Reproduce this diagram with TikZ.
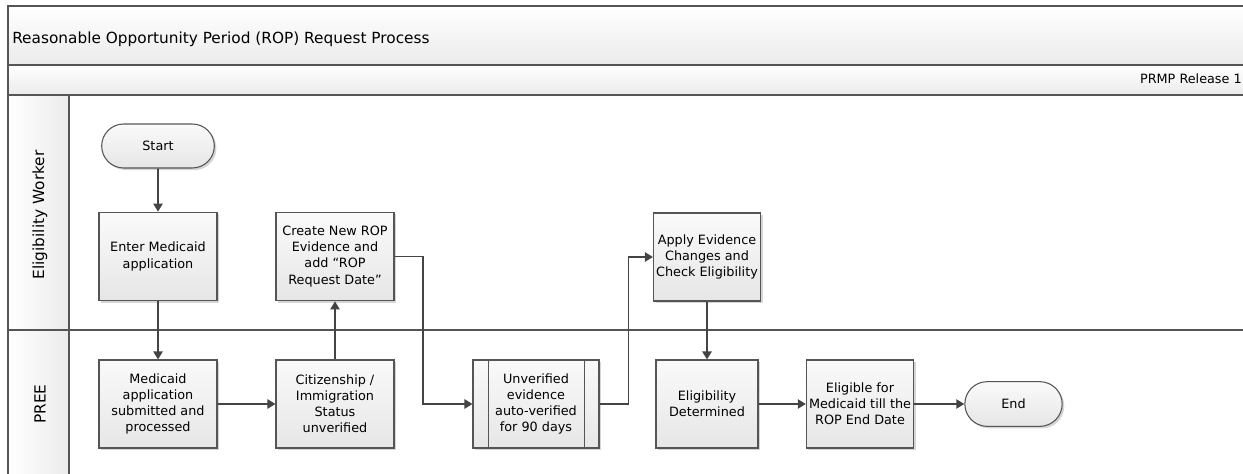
\documentclass[tikz,border=0pt]{standalone}
\usepackage{fontspec}
\setmainfont{DejaVu Sans}
\usetikzlibrary{arrows.meta,shapes.misc,shadows,calc}

\definecolor{edge}{HTML}{555555}
\definecolor{wire}{HTML}{444444}
\definecolor{boxtop}{HTML}{FAFAFA}
\definecolor{boxlow}{HTML}{E6E6E6}
\definecolor{bandlow}{HTML}{EBEBEB}

\tikzset{
  boxfont/.style={font=\fontsize{9.6pt}{12.1pt}\selectfont},
  stepbox/.style={boxfont, draw=edge, line width=0.8pt, rectangle,
    top color=boxtop, bottom color=boxlow, align=center, inner sep=2pt,
    drop shadow={shadow xshift=1.6pt, shadow yshift=-1.6pt, fill=black!16, opacity=1}},
  termbox/.style={stepbox, rounded rectangle},
  arr/.style={draw=wire, line width=1.15pt, -{Triangle[length=6pt,width=7pt]}},
  lanefont/.style={font=\fontsize{11.5pt}{13pt}\selectfont},
  frame/.style={draw=edge, line width=0.8pt},
}

\begin{document}
\begin{tikzpicture}[x=0.75pt,y=-0.75pt]
\useasboundingbox (0,0) rectangle (1243,474);

% pool header bands
\shade[top color=white, bottom color=bandlow] (8,6) rectangle (1250,65);
\shade[top color=white, bottom color=bandlow] (8,65) rectangle (1250,95);
% lane header column
\shade[left color=white, right color=bandlow] (8,95) rectangle (69,480);

\draw[frame] (1250,6) -- (8,6) -- (8,480);
\draw[frame] (8,65) -- (1250,65);
\draw[frame] (8,95) -- (1250,95);
\draw[frame] (69,95) -- (69,480);
\draw[frame] (8,330) -- (1250,330);

\node[lanefont, anchor=base west, inner sep=0] (title) at (12,44)
  {Reasonable Opportunity Period (ROP) Request Process};
\node[boxfont, anchor=base east, inner sep=0] (release) at (1242,84) {PRMP Release 1};

\node[lanefont, rotate=90, inner sep=0] (lane1) at (40,215) {Eligibility Worker};
\node[lanefont, rotate=90, inner sep=0] (lane2) at (40,404) {PREE};

% flow steps
\node[termbox, minimum width=88.5pt, minimum height=33pt] (start) at (158,146) {Start};
\node[stepbox, minimum width=88.5pt, minimum height=66.5pt] (enter) at (158,256.5) {Enter Medicaid\\application};
\node[stepbox, minimum width=88.5pt, minimum height=66.5pt] (create) at (335,256.5) {Create New ROP\\Evidence and\\add “ROP\\Request Date”};
\node[stepbox, minimum width=88.5pt, minimum height=66pt] (submit) at (158,404) {Medicaid\\application\\submitted and\\processed};
\node[stepbox, minimum width=88.5pt, minimum height=66pt] (citizen) at (335,404) {Citizenship /\\Immigration\\Status\\unverified};
\node[stepbox, minimum width=94.5pt, minimum height=66pt] (unv) at (536,404) {Unverified\\evidence\\auto-verified\\for 90 days};
\draw[edge, line width=0.8pt] ($(unv.north west)+(16,0)$) -- ($(unv.south west)+(16,0)$);
\draw[edge, line width=0.8pt] ($(unv.north east)+(-15,0)$) -- ($(unv.south east)+(-15,0)$);
\node[stepbox, minimum width=76.5pt, minimum height=66pt] (apply) at (707,257) {Apply Evidence\\Changes and\\Check Eligibility};
\node[stepbox, minimum width=76.5pt, minimum height=66pt] (determined) at (707,404) {Eligibility\\Determined};
\node[stepbox, minimum width=76.5pt, minimum height=66pt] (eligible) at (860,404) {Eligible for\\Medicaid till the\\ROP End Date};
\node[termbox, minimum width=77pt, minimum height=33.5pt] (end) at (1013.5,404) {End};

% connectors
\draw[arr] (start) -- (enter);
\draw[arr] (enter) -- (submit);
\draw[arr] (submit) -- (citizen);
\draw[arr] (citizen) -- (create);
\draw[arr] (create.east) -- ++(28.5,0) |- (unv.west);
\draw[arr] (unv.east) -- ++(29,0) |- (apply.west);
\draw[arr] (apply) -- (determined);
\draw[arr] (determined) -- (eligible);
\draw[arr] (eligible) -- (end);
\end{tikzpicture}
\end{document}
